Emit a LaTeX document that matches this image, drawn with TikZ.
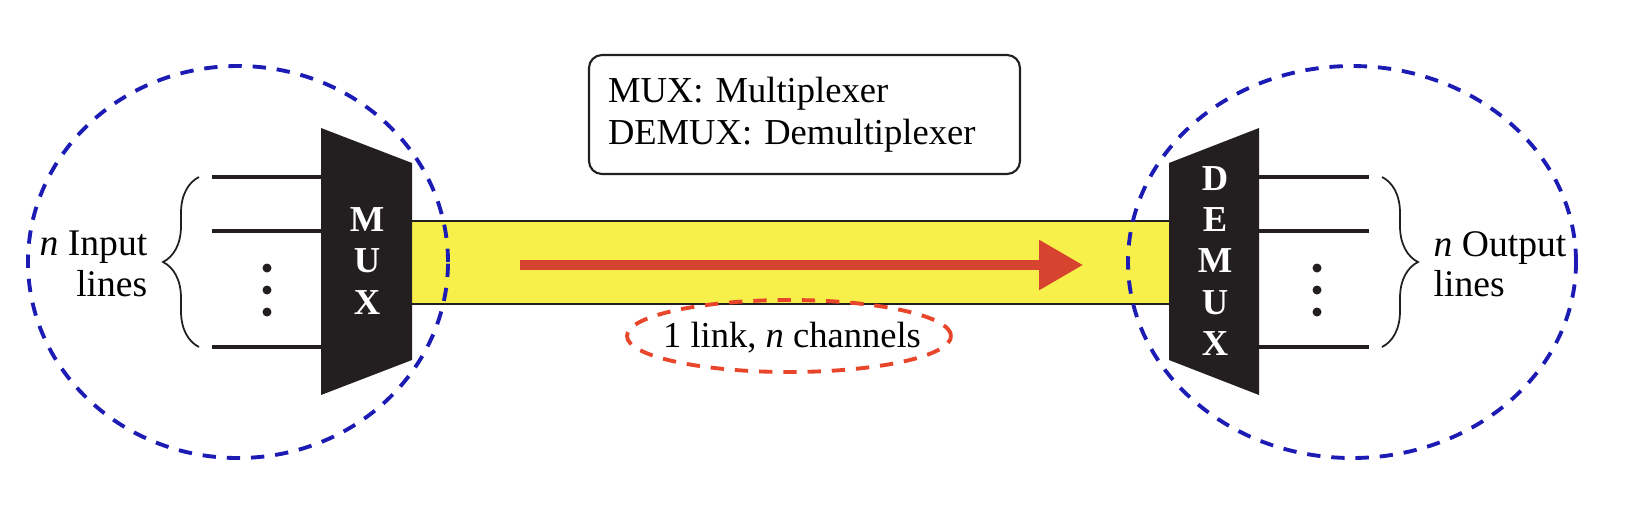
\documentclass[tikz,border=0pt]{standalone}
\usepackage{fontspec}
\setmainfont{Liberation Serif}
\usepackage{tikz}
\usetikzlibrary{calc,arrows.meta,decorations.pathreplacing}
\definecolor{linkyellow}{HTML}{F8F04A}
\definecolor{flowred}{HTML}{D6432E}
\definecolor{ringblue}{HTML}{1C1CB5}
\definecolor{tagred}{HTML}{E8452A}
\definecolor{boxblack}{HTML}{231F20}
\tikzset{
  wire/.style={line width=1pt,boxblack},
  ring/.style={ringblue,line width=1.1pt,dash pattern=on 3.8pt off 3.1pt},
  tagring/.style={tagred,line width=1.1pt,dash pattern=on 3.8pt off 3.1pt},
  boxtext/.style={text=white,align=center,inner sep=0,font=\bfseries\fontsize{10.4}{11.7}\selectfont},
  bracket/.style={decorate,decoration={brace,amplitude=0.36cm},line width=0.5pt,boxblack},
  sidetext/.style={inner sep=0,font=\fontsize{10.7}{11.5}\selectfont},
  legend/.style={draw=boxblack,line width=0.6pt,rounded corners=0.13cm,text width=3.93cm,inner xsep=0.19cm,minimum height=1.19cm,align=left,font=\fontsize{10.4}{12}\selectfont},
  flow/.style={flowred,line width=2.6pt,-{Triangle[length=4.4mm,width=4.8mm]}}
}
\begin{document}
\begin{tikzpicture}[x=1cm,y=1cm]
\useasboundingbox (0,0) rectangle (16.4,5.27);
\coordinate (mux-nw) at (3.21,3.99); \coordinate (mux-sw) at (3.21,1.32);
\coordinate (mux-ne) at (4.12,3.64); \coordinate (mux-se) at (4.12,1.67);
\coordinate (demux-nw) at (11.69,3.64); \coordinate (demux-sw) at (11.69,1.67);
\coordinate (demux-ne) at (12.59,3.99); \coordinate (demux-se) at (12.59,1.32);
\coordinate (band-sw) at (4.12,2.23); \coordinate (band-ne) at (11.69,3.06);
\fill[linkyellow] (band-sw) rectangle (band-ne);
\draw[boxblack,line width=0.6pt] (band-sw) -- (band-sw -| band-ne);
\draw[boxblack,line width=0.6pt] (band-ne) -- (band-ne -| band-sw);
\fill[boxblack] (mux-nw) -- (mux-ne) -- (mux-se) -- (mux-sw) -- cycle;
\fill[boxblack] (demux-nw) -- (demux-ne) -- (demux-se) -- (demux-sw) -- cycle;
\node[boxtext] (mux) at (3.67,2.66) {M\\U\\X};
\node[boxtext] (demux) at (12.15,2.66) {D\\E\\M\\U\\X};
\foreach \n/\y in {a/3.50,b/2.96,c/1.80}{
  \coordinate (in\n) at (2.12,\y);
  \coordinate (out\n) at (13.69,\y);
  \draw[wire] (in\n) -- (in\n -| mux-sw);
  \draw[wire] (out\n -| demux-se) -- (out\n);
}
\foreach \y in {2.59,2.37,2.15}{\fill[boxblack] (2.67,\y) circle (0.045); \fill[boxblack] (13.17,\y) circle (0.045);}
\draw[bracket] (1.99,1.80) -- (1.99,3.50);
\draw[bracket] (13.82,3.50) -- (13.82,1.80);
\node[sidetext,anchor=east,align=right] (inlabel) at (1.48,2.63) {\textit{n} Input\\lines};
\node[sidetext,anchor=west,align=left] (outlabel) at (14.33,2.63) {\textit{n} Output\\lines};
\node[legend] (key) at (8.045,4.125) {MUX: Multiplexer\\DEMUX: Demultiplexer};
\coordinate (flow-start) at (5.20,2.62);
\coordinate (flow-end) at (10.83,2.62);
\draw[flow] (flow-start) -- (flow-end);
\node[anchor=base,inner sep=0,font=\fontsize{10.4}{12}\selectfont] (linklabel) at (7.92,1.80) {1 link, \textit{n} channels};
\draw[tagring] (7.89,1.91) ellipse [x radius=1.62,y radius=0.36];
\draw[ring] (2.38,2.65) ellipse [x radius=2.10,y radius=1.96];
\draw[ring] (13.52,2.65) ellipse [x radius=2.24,y radius=1.96];
\end{tikzpicture}
\end{document}
